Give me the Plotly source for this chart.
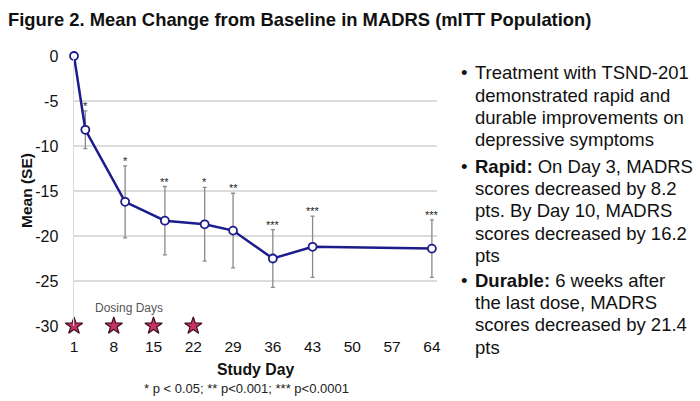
import plotly.graph_objects as go

# ---------------- data ----------------
days = [1, 3, 10, 17, 24, 29, 36, 43, 64]
mean_change = [0, -8.2, -16.2, -18.3, -18.7, -19.4, -22.5, -21.2, -21.4]
se = [0, 2.1, 4.0, 3.8, 4.1, 4.15, 3.2, 3.4, 3.2]
significance = ["", "*", "*", "**", "*", "**", "***", "***", "***"]
dosing_days = [1, 8, 15, 22]
dosing_level = [-30, -30, -30, -30]
x_ticks = [1, 8, 15, 22, 29, 36, 43, 50, 57, 64]
y_ticks = [0, -5, -10, -15, -20, -25, -30]
y_tick_labels = ["0", "-5", "-10", "-15", "-20", "-25", "-30"]

title_text = "Figure 2. Mean Change from Baseline in MADRS (mITT Population)"
footnote_text = "* p < 0.05; ** p<0.001; *** p<0.0001"
bullets = [
    ["Treatment with TSND-201", "demonstrated rapid and",
     "durable improvements on", "depressive symptoms"],
    ["<b>Rapid:</b> On Day 3, MADRS", "scores decreased by 8.2",
     "pts. By Day 10, MADRS", "scores decreased by 16.2", "pts"],
    ["<b>Durable:</b> 6 weeks after", "the last dose, MADRS",
     "scores decreased by 21.4", "pts"],
]

# ---------------- layout geometry (pixels) ----------------
W, H = 700, 401
L, R, T, B = 74, 437, 56, 326
FONT = "Liberation Sans, Arial, Helvetica, sans-serif"
NAVY = "#1c1c8c"


def px_x(px):
    return (px - L) / (R - L)


def px_y(py):
    return (B - py) / (B - T)


fig = go.Figure()

# error bars (drawn underneath)
fig.add_trace(go.Scatter(
    x=days, y=mean_change, mode="markers",
    marker=dict(size=1, opacity=0),
    error_y=dict(type="data", array=se, visible=True,
                 color="#8a8a8a", thickness=1.3, width=2),
    hoverinfo="skip", showlegend=False, cliponaxis=False,
))

# main line
fig.add_trace(go.Scatter(
    x=days, y=mean_change, mode="lines+markers",
    line=dict(color=NAVY, width=2.5),
    marker=dict(symbol="circle", size=8, color="white",
                line=dict(color=NAVY, width=1.8)),
    showlegend=False, cliponaxis=False,
))

# dosing day stars
fig.add_trace(go.Scatter(
    x=dosing_days, y=dosing_level, mode="markers",
    marker=dict(symbol="star", size=13, color="#c8325f",
                line=dict(color="#3a0f1f", width=1.2)),
    showlegend=False, cliponaxis=False,
))

annotations = []
# significance asterisks
for d, m, s, sig in zip(days, mean_change, se, significance):
    if sig:
        annotations.append(dict(
            x=d, y=m + s, xref="x", yref="y", text=sig, showarrow=False,
            yanchor="bottom", yshift=-3,
            font=dict(family=FONT, size=11, color="#222222")))

# Dosing Days label
annotations.append(dict(
    x=px_x(129), y=px_y(308), xref="paper", yref="paper",
    text="Dosing Days", showarrow=False, xanchor="center", yanchor="middle",
    font=dict(family=FONT, size=12, color="#555555")))

# axis titles / footnote
annotations.append(dict(
    x=px_x(256), y=px_y(369), xref="paper", yref="paper",
    text="<b>Study Day</b>", showarrow=False, xanchor="center", yanchor="middle",
    font=dict(family=FONT, size=15.8, color="#111111")))
annotations.append(dict(
    x=px_x(246), y=px_y(388), xref="paper", yref="paper",
    text=footnote_text, showarrow=False, xanchor="center", yanchor="middle",
    font=dict(family=FONT, size=13, color="#222222")))
annotations.append(dict(
    x=px_x(26), y=px_y(191), xref="paper", yref="paper",
    text="<b>Mean (SE)</b>", showarrow=False, textangle=-90,
    xanchor="center", yanchor="middle",
    font=dict(family=FONT, size=15.5, color="#111111")))

# bullet text on the right
baselines = [[79.3, 101.7, 124, 146.3],
             [172.7, 195, 217.3, 239.6, 261.5],
             [286.7, 309, 331.3, 353.5]]
for block, bl in zip(bullets, baselines):
    annotations.append(dict(
        x=px_x(464), y=px_y(bl[0] - 6.5), xref="paper", yref="paper",
        text="•", showarrow=False, xanchor="center", yanchor="middle",
        font=dict(family=FONT, size=18.5, color="#111111")))
    for line, b in zip(block, bl):
        annotations.append(dict(
            x=px_x(473), y=px_y(b - 6.5), xref="paper", yref="paper",
            text=line, showarrow=False, xanchor="left", yanchor="middle",
            font=dict(family=FONT, size=18.5, color="#111111")))

fig.update_layout(
    width=W, height=H,
    margin=dict(l=L, r=W - R, t=T, b=H - B, pad=0, autoexpand=False),
    paper_bgcolor="white", plot_bgcolor="white",
    font=dict(family=FONT, color="#111111"),
    title=dict(text="<b>" + title_text + "</b>", x=8 / W, xanchor="left",
               y=1 - 20 / H, yanchor="middle", xref="container", yref="container",
               pad=dict(l=0, r=0, t=0, b=0), automargin=False,
               font=dict(family=FONT, size=18.4, color="#111111")),
    xaxis=dict(range=[1, 64.9], tickvals=x_ticks, ticktext=[str(t) for t in x_ticks],
               showgrid=False, zeroline=False, showline=False, ticks="",
               ticklabelstandoff=9, automargin=False,
               tickfont=dict(family=FONT, size=15.5, color="#111111")),
    yaxis=dict(range=[-30, 0], tickvals=y_ticks, ticktext=y_tick_labels,
               showgrid=True, gridcolor="#dcdcdc", gridwidth=1.5, zeroline=False,
               showline=True, linecolor="#dcdcdc", linewidth=1.5, ticks="",
               ticklabelstandoff=11, automargin=False,
               tickfont=dict(family=FONT, size=16, color="#111111")),
    annotations=annotations,
)

fig.write_html(
    "out.html",
    config={"displayModeBar": False, "staticPlot": True},
    post_script="document.body.style.margin='0';document.body.style.overflow='hidden';",
)
